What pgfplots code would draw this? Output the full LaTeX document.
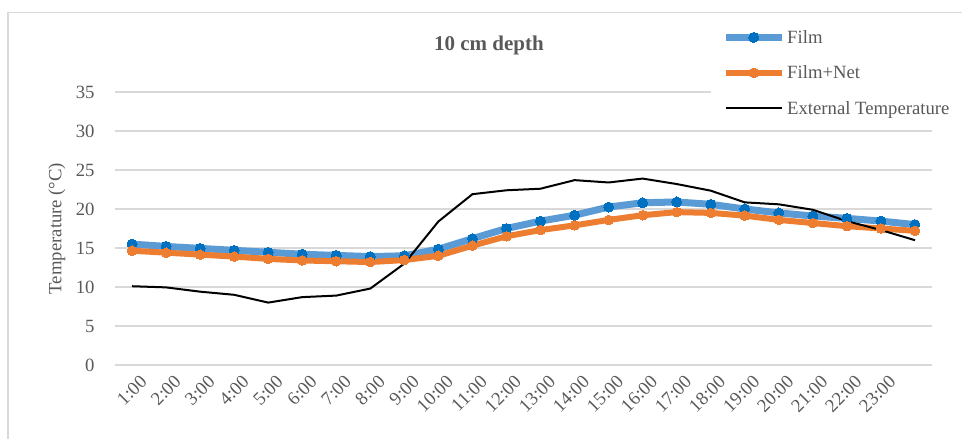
\documentclass[border=0pt]{standalone}
\usepackage{pgfplots}
\pgfplotsset{compat=1.18}
\usepackage{fontspec}
\setmainfont{Liberation Serif}
\definecolor{txtgray}{HTML}{595959}
\definecolor{gridgray}{HTML}{D9D9D9}
\definecolor{filmline}{HTML}{5B9BD5}
\definecolor{filmmark}{HTML}{0070C0}
\definecolor{netline}{HTML}{ED7D31}
\begin{document}
\begin{tikzpicture}
\useasboundingbox (0pt,0pt) rectangle (962pt,439pt);
\draw[gridgray, line width=1.3pt] (8pt,0pt) -- (8pt,426.5pt) -- (962pt,426.5pt);
\node[font=\fontsize{21}{25}\selectfont\bfseries, text=txtgray] at (489pt,394pt) {10 cm depth};
\begin{axis}[
  at={(115pt,74pt)}, anchor=south west,
  scale only axis, width=817pt, height=273pt,
  xmin=-0.5, xmax=23.5, ymin=0, ymax=35,
  ytick={0,5,...,35},
  xtick={0,...,22},
  xticklabels={1:00,2:00,3:00,4:00,5:00,6:00,7:00,8:00,9:00,10:00,11:00,12:00,13:00,14:00,15:00,16:00,17:00,18:00,19:00,20:00,21:00,22:00,23:00},
  axis line style={draw=none},
  major tick style={draw=none},
  ymajorgrids,
  grid style={draw=gridgray, line width=1.3pt},
  tick label style={font=\fontsize{18.7}{22}\selectfont, text=txtgray},
  /pgf/number format/assume math mode=true,
  yticklabel style={anchor=east, xshift=-17pt},
  xticklabel style={rotate=45, anchor=north east, xshift=2pt, yshift=-8pt},
  ylabel={Temperature (°C)},
  every axis y label/.style={at={(axis description cs:-0.071,0.5)}, rotate=90, anchor=center, font=\fontsize{18.7}{22}\selectfont, text=txtgray},
  legend style={at={(axis description cs:0.7295,1.264)}, anchor=north west, draw=none, fill=white,
    font=\fontsize{18.7}{22}\selectfont, text=txtgray, row sep=17pt, inner xsep=11pt, inner ysep=8pt,
    nodes={inner sep=2pt}},
  legend cell align=left,
  legend image code/.code={\draw[mark repeat=2,mark phase=2,#1] plot coordinates {(0pt,0pt) (28pt,0pt) (56pt,0pt)};},
]
\addplot[filmline, line width=7pt, mark=*, mark size=5pt, mark options={filmmark, draw=filmmark, fill=filmmark, line width=0pt}]
coordinates {(0,15.5) (1,15.2) (2,14.95) (3,14.7) (4,14.45) (5,14.2) (6,14.05) (7,13.9) (8,14.0) (9,14.85) (10,16.2) (11,17.5) (12,18.45) (13,19.2) (14,20.25) (15,20.8) (16,20.9) (17,20.6) (18,20.0) (19,19.5) (20,19.1) (21,18.8) (22,18.45) (23,18.0)};
\addlegendentry{Film}
\addplot[netline, line width=6pt, mark=*, mark size=4.8pt, mark options={netline, draw=netline, fill=netline, line width=0pt}]
coordinates {(0,14.65) (1,14.4) (2,14.15) (3,13.9) (4,13.6) (5,13.4) (6,13.3) (7,13.2) (8,13.45) (9,14.0) (10,15.3) (11,16.5) (12,17.3) (13,17.9) (14,18.6) (15,19.2) (16,19.6) (17,19.5) (18,19.15) (19,18.6) (20,18.2) (21,17.8) (22,17.5) (23,17.2)};
\addlegendentry{Film+Net}
\addplot[black, line width=2pt, mark=none]
coordinates {(0,10.1) (1,9.95) (2,9.4) (3,9.0) (4,8.0) (5,8.7) (6,8.9) (7,9.8) (8,13.0) (9,18.4) (10,21.9) (11,22.4) (12,22.6) (13,23.7) (14,23.4) (15,23.9) (16,23.2) (17,22.35) (18,20.85) (19,20.6) (20,19.9) (21,18.45) (22,17.3) (23,16.0)};
\addlegendentry{External Temperature}
\end{axis}
\end{tikzpicture}
\end{document}
